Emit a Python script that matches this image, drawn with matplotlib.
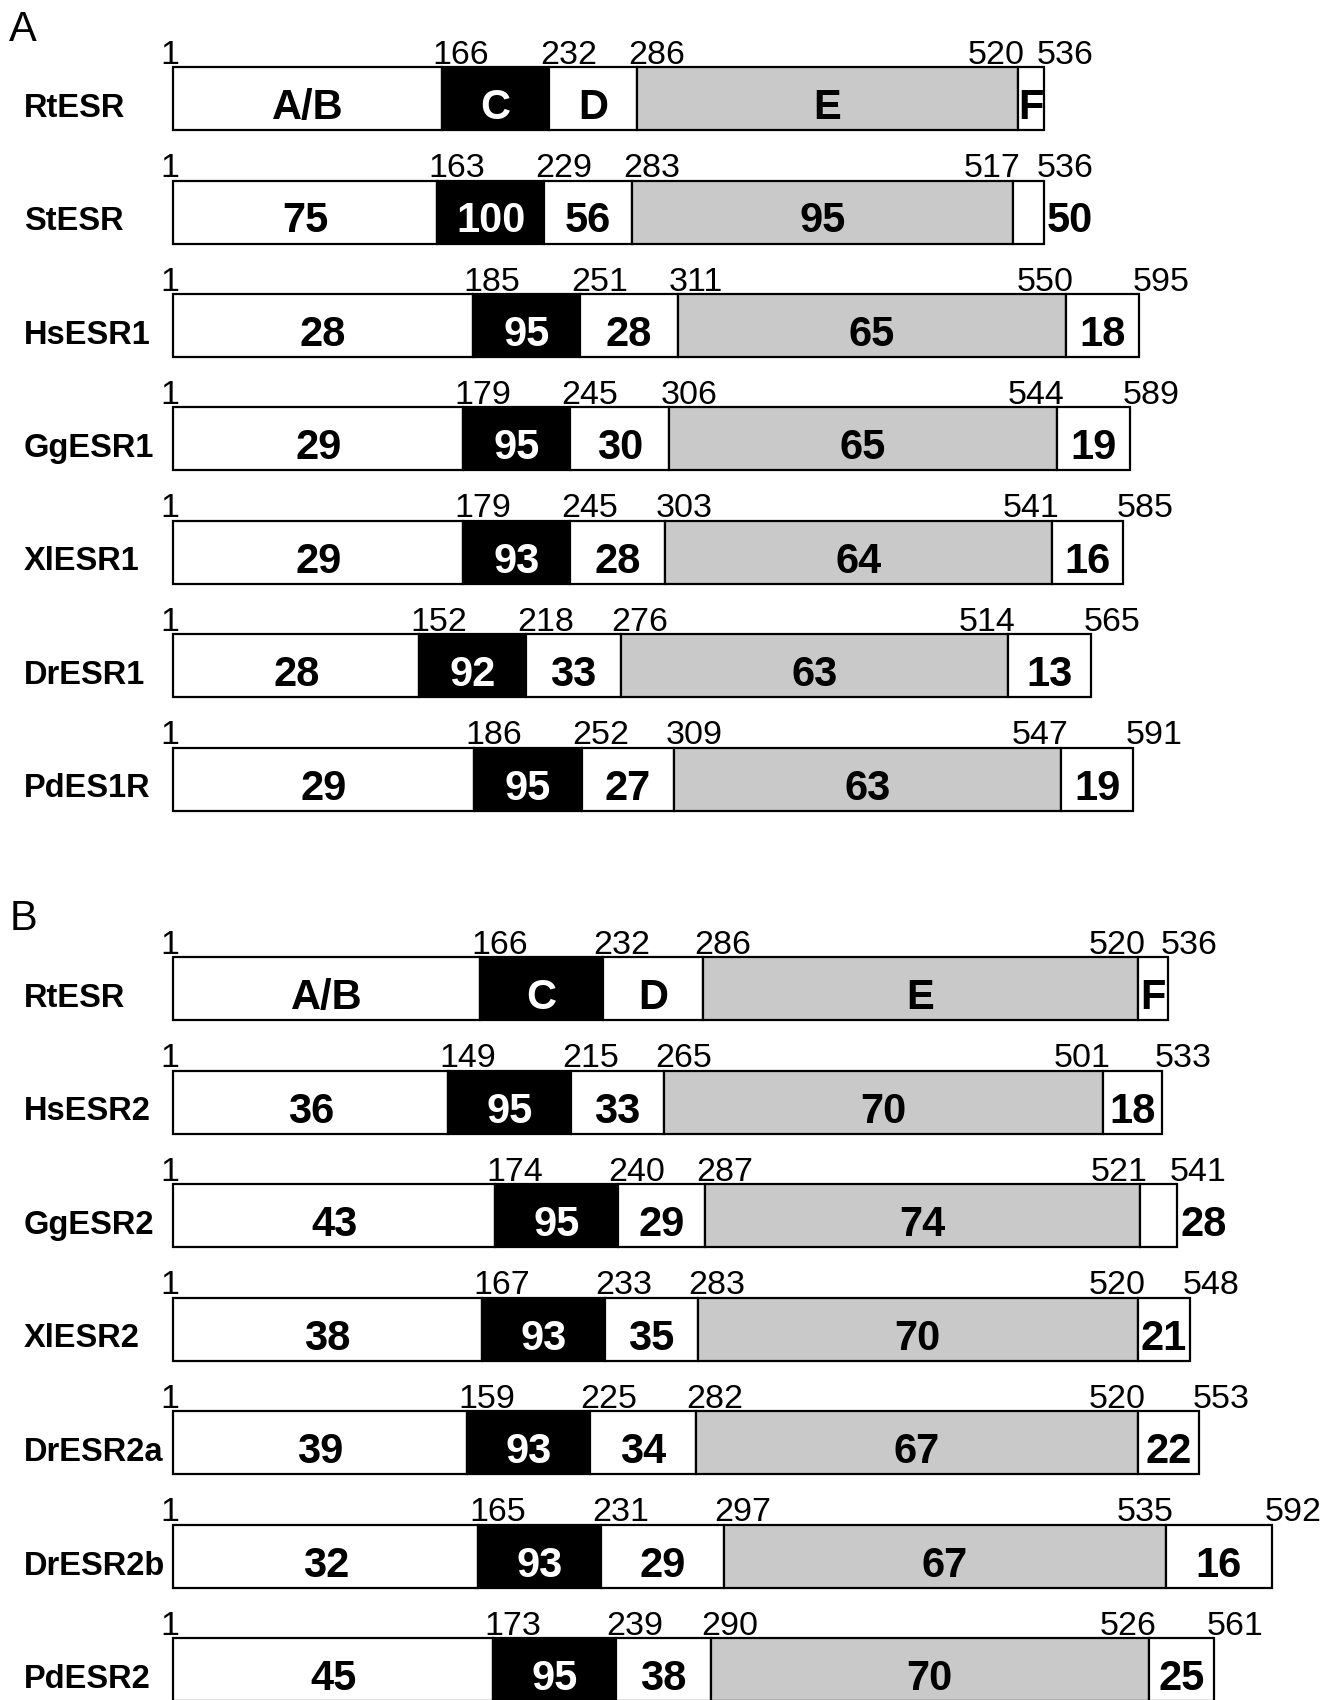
import matplotlib
matplotlib.use("Agg")
import matplotlib.pyplot as plt
from matplotlib.patches import Rectangle

plt.rcParams['font.family'] = ['Liberation Sans', 'DejaVu Sans']

# PANEL A (ESR1)
names_a = ["RtESR", "StESR", "HsESR1", "GgESR1", "XlESR1", "DrESR1", "PdES1R"]
bounds_a = [
    [1, 166, 232, 286, 520, 536],
    [1, 163, 229, 283, 517, 536],
    [1, 185, 251, 311, 550, 595],
    [1, 179, 245, 306, 544, 589],
    [1, 179, 245, 303, 541, 585],
    [1, 152, 218, 276, 514, 565],
    [1, 186, 252, 309, 547, 591],
]
labels_a = [
    ["A/B", "C", "D", "E", "F"],
    ["75", "100", "56", "95", "50"],
    ["28", "95", "28", "65", "18"],
    ["29", "95", "30", "65", "19"],
    ["29", "93", "28", "64", "16"],
    ["28", "92", "33", "63", "13"],
    ["29", "95", "27", "63", "19"],
]

# PANEL B (ESR2)
names_b = ["RtESR", "HsESR2", "GgESR2", "XlESR2", "DrESR2a", "DrESR2b", "PdESR2"]
bounds_b = [
    [1, 166, 232, 286, 520, 536],
    [1, 149, 215, 265, 501, 533],
    [1, 174, 240, 287, 521, 541],
    [1, 167, 233, 283, 520, 548],
    [1, 159, 225, 282, 520, 553],
    [1, 165, 231, 297, 535, 592],
    [1, 173, 239, 290, 526, 561],
]
labels_b = [
    ["A/B", "C", "D", "E", "F"],
    ["36", "95", "33", "70", "18"],
    ["43", "95", "29", "74", "28"],
    ["38", "93", "35", "70", "21"],
    ["39", "93", "34", "67", "22"],
    ["32", "93", "29", "67", "16"],
    ["45", "95", "38", "70", "25"],
]

# last-domain labels that sit outside the bar
outside = {"StESR", "GgESR2"}

# STYLE
seg_colors = ["white", "black", "white", "#c9c9c9", "white"]
txt_colors = ["black", "white", "black", "black", "black"]

W, H = 1341, 1700
S = H / 1568          # reference px -> output px
BAR_H = 58 / 104.6    # bar height in row units
LW = 1.6


def draw_panel(ax, names, bounds, labels, px_per_res):
    left_px = 160 * S
    ax.set_xlim(1 - left_px / px_per_res, 1 + (W - left_px) / px_per_res)
    ax.axis("off")
    for i, (name, b, lab) in enumerate(zip(names, bounds, labels)):
        top = i - BAR_H / 2
        for j in range(5):
            ax.add_patch(Rectangle((b[j], top), b[j + 1] - b[j], BAR_H,
                                   facecolor=seg_colors[j], edgecolor="black",
                                   lw=LW))
            if j == 4 and name in outside:
                ax.annotate(lab[j], xy=(b[5], i + 0.18), xytext=(2.5, 0),
                            textcoords="offset points", ha="left",
                            va="baseline", fontsize=30, fontweight="bold")
            else:
                ax.text((b[j] + b[j + 1]) / 2, i + 0.18, lab[j], ha="center",
                        va="baseline", fontsize=30, fontweight="bold",
                        color=txt_colors[j])

        # residue numbers above the bar
        kw = dict(textcoords="offset points", va="baseline", fontsize=24.5)
        ax.annotate("1", xy=(b[0], top), xytext=(-2.3, 2.5), ha="center", **kw)
        for j in (1, 2, 3):
            ax.annotate(str(b[j]), xy=(b[j], top), xytext=(-6.5, 2.5),
                        ha="left", **kw)
        ax.annotate(str(b[4]), xy=(b[4], top), xytext=(5.5, 2.5),
                    ha="right", **kw)
        ax.annotate(str(b[5]), xy=(b[5], top), xytext=(-5.0, 2.5),
                    ha="left", **kw)

        # row name
        ax.text(22 * S / W, i + 0.16, name, transform=ax.get_yaxis_transform(),
                ha="left", va="baseline", fontsize=23.5, fontweight="bold")


fig = plt.figure(figsize=(W / 100, H / 100), dpi=100)

ax_a = fig.add_axes([0, 1 - 800 / 1568, 1, 800 / 1568])
ax_a.set_ylim((800 - 91) / 104.6, (0 - 91) / 104.6)
draw_panel(ax_a, names_a, bounds_a, labels_a, 1.5 * S)

ax_b = fig.add_axes([0, 0, 1, 768 / 1568])
ax_b.set_ylim((1568 - 912) / 104.7, (800 - 912) / 104.7)
draw_panel(ax_b, names_b, bounds_b, labels_b, 1.714 * S)

fig.text(8 * S / W, 1 - 38 * S / H, "A", fontsize=30, va="baseline")
fig.text(9 * S / W, 1 - 858 * S / H, "B", fontsize=30, va="baseline")

fig.savefig("out.png", dpi=100)
